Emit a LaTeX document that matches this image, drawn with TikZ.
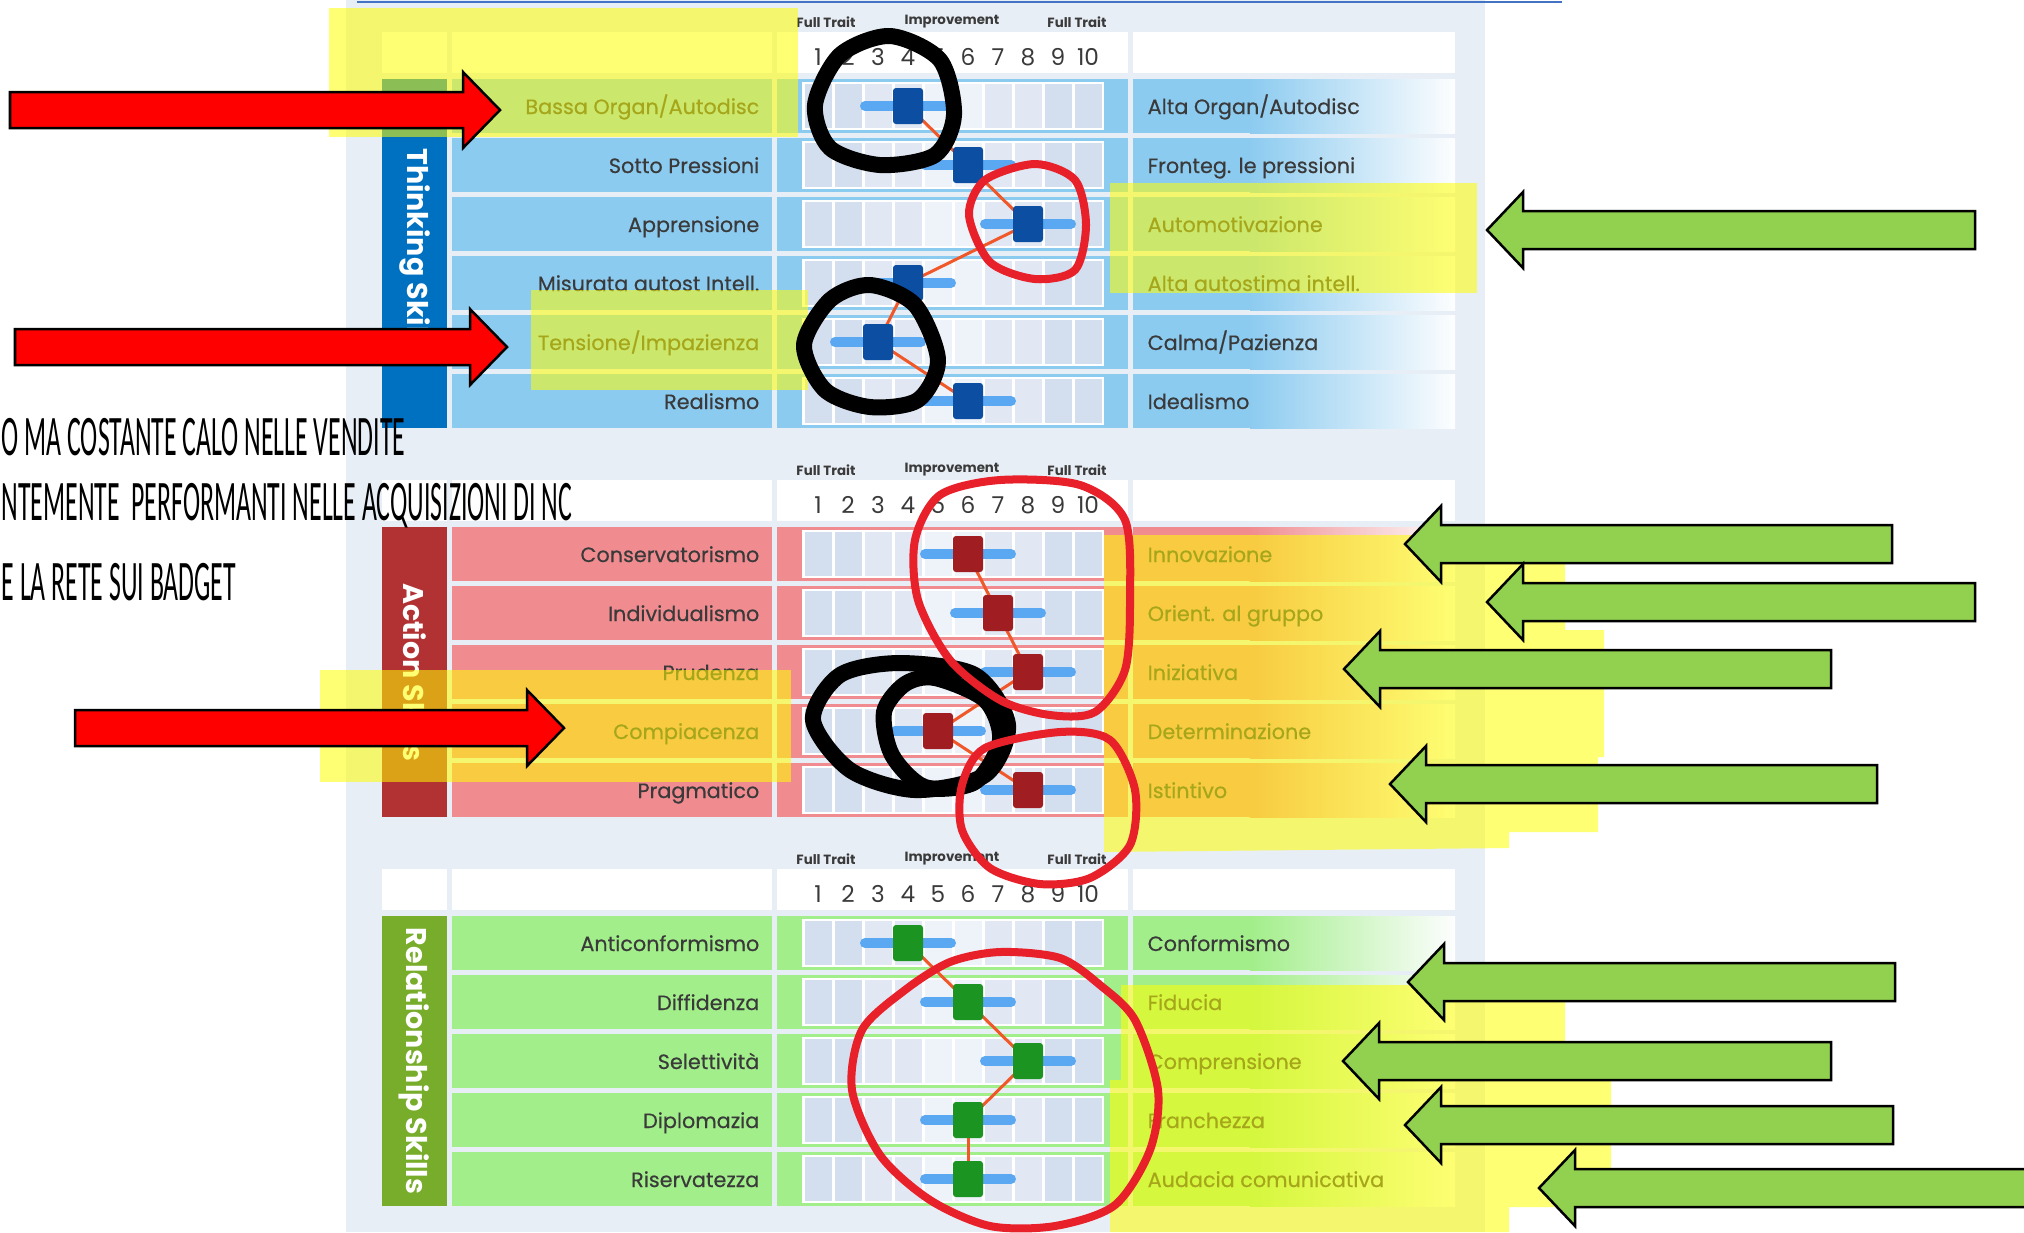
\documentclass[tikz,border=0pt]{standalone}
\usepackage{fontspec}
\setmainfont{Poppins}
\newfontfamily\labelfont[FakeBold=0.4]{Poppins}
\newfontfamily\notefont[FakeStretch=0.45]{Carlito}
\usetikzlibrary{calc}

\definecolor{panelbg}{HTML}{E8EEF6}
\definecolor{topblue}{HTML}{4472C4}
\definecolor{thinkband}{HTML}{8CCBF0}
\definecolor{thinkside}{HTML}{0070C0}
\definecolor{thinkmark}{HTML}{0B4EA2}
\definecolor{actband}{HTML}{F08C90}
\definecolor{actside}{HTML}{B23234}
\definecolor{actmark}{HTML}{A01D22}
\definecolor{relband}{HTML}{A2EE8A}
\definecolor{relside}{HTML}{78AD2C}
\definecolor{relmark}{HTML}{1B9422}
\definecolor{celldark}{HTML}{D3DEEE}
\definecolor{cellmid}{HTML}{E1E8F3}
\definecolor{celllight}{HTML}{EEF2F9}
\definecolor{barblue}{HTML}{5AA7F2}
\definecolor{trendline}{HTML}{F0582A}
\definecolor{labelgrey}{HTML}{3A3A3A}
\definecolor{penred}{HTML}{E8202A}
\definecolor{arrowred}{HTML}{FF0000}
\definecolor{arrowgreen}{HTML}{92D050}
\definecolor{hiyellow}{HTML}{FFFF00}

% one block of the profile: top, band, side, mark, title, prefix, last row, rows
\newcommand{\skillsection}[8]{%
	\node[smalltxt] (#6-ftl) at (826,#1+22) {Full Trait};
	\node[smalltxt] (#6-imp) at (952,#1+22) {Improvement};
	\node[smalltxt] (#6-ftr) at (1077,#1+22) {Full Trait};
	\fill[white] (382,#1+32) rectangle (447,#1+73);
	\fill[white] (452,#1+32) rectangle (772,#1+73);
	\fill[white] (777,#1+32) rectangle (1128,#1+73);
	\fill[white] (1133,#1+32) rectangle (1455,#1+73);
	\foreach \dg in {1,...,10}{
		\node[digit] (#6-d\dg) at (788+30*\dg,#1+57) {\dg};
	}
	\pgfmathsetmacro\secbot{#1+79+59*#7+54}
	\fill[#3] (382,#1+79) rectangle (447,\secbot);
	\node[sidetxt] (#6-title) at (414.5,{(#1+79+\secbot)/2}) {#5};
	\foreach \lname/\rname/\val [count=\i from 0] in {#8}{
		\pgfmathsetmacro\yt{#1+79+59*\i}
		\pgfmathsetmacro\ym{\yt+27}
		\fill[#2] (452,\yt) rectangle (772,\yt+54);
		\fill[#2] (777,\yt) rectangle (1128,\yt+54);
		\fill[#2] (1133,\yt) rectangle (1250,\yt+54);
		\shade[left color=#2, right color=white!92!panelbg] (1250,\yt) rectangle (1455,\yt+54);
		\fill[white] (802,\yt+3) rectangle (1104,\yt+51);
		\foreach \col in {1,2,9,10}{
			\fill[celldark] (774.5+30*\col,\yt+5) rectangle (801.5+30*\col,\yt+49);
		}
		\foreach \col in {3,4,7,8}{
			\fill[cellmid] (774.5+30*\col,\yt+5) rectangle (801.5+30*\col,\yt+49);
		}
		\foreach \col in {5,6}{
			\fill[celllight] (774.5+30*\col,\yt+5) rectangle (801.5+30*\col,\yt+49);
		}
		\node[lefttxt] (#6-l\i) at (760,\ym+8) {\lname};
		\node[righttxt] (#6-r\i) at (1147,\ym+8) {\rname};
		\coordinate (#6-p\i) at (788+30*\val,\ym);
		\draw[traitbar] (745+30*\val,\ym) -- (831+30*\val,\ym);
	}
	\foreach \i [remember=\i as \j (initially 0)] in {1,...,#7}{
		\draw[trend] (#6-p\j) -- (#6-p\i);
	}
	\foreach \i in {0,...,#7}{
		\node[markbox, fill=#4] (#6-m\i) at (#6-p\i) {};
	}
}

\begin{document}
\begin{tikzpicture}[x=0.01cm, y=-0.01cm,
	smalltxt/.style={font=\fontsize{3.8}{4}\selectfont\bfseries, text=labelgrey, inner sep=0},
	digit/.style={font=\fontsize{6.6}{7}\selectfont, text=labelgrey, inner sep=0},
	lefttxt/.style={font=\labelfont\fontsize{5.9}{7}\selectfont, text=labelgrey, inner sep=0, anchor=base east},
	righttxt/.style={font=\labelfont\fontsize{5.9}{7}\selectfont, text=labelgrey, inner sep=0, anchor=base west},
	sidetxt/.style={font=\fontsize{8.1}{9}\selectfont\bfseries, text=white, rotate=-90, inner sep=0},
	traitbar/.style={barblue, line width=0.1cm, line cap=round},
	trend/.style={trendline, line width=0.03cm},
	markbox/.style={minimum width=0.30cm, minimum height=0.36cm, rounded corners=0.03cm, inner sep=0},
	notetxt/.style={font=\notefont\fontsize{16.3}{18}\selectfont, anchor=base west, inner sep=0},
	highlight/.style={fill=hiyellow, fill opacity=0.55},
	blackloop/.style={draw=black, line width=0.16cm, line join=round},
	redloop/.style={draw=penred, line width=0.08cm, line join=round},
	rightarrow/.style={fill=arrowred, draw=black, line width=0.025cm},
	leftarrow/.style={fill=arrowgreen, draw=black, line width=0.025cm}]

	\useasboundingbox (0,0) rectangle (2024,1232);
	\clip (0,0) rectangle (2024,1232);
	\fill[white] (0,0) rectangle (2024,1232);
	\fill[panelbg] (346,0) rectangle (1485,1232);
	\draw[topblue, line width=0.02cm] (357,2) -- (1562,2);

	\skillsection{0}{thinkband}{thinkside}{thinkmark}{Thinking Skills}{th}{5}{%
		{Bassa Organ/Autodisc}/{Alta Organ/Autodisc}/4,
		{Sotto Pressioni}/{Fronteg. le pressioni}/6,
		{Apprensione}/{Automotivazione}/8,
		{Misurata autost Intell.}/{Alta autostima intell.}/4,
		{Tensione/Impazienza}/{Calma/Pazienza}/3,
		{Realismo}/{Idealismo}/6}

	\skillsection{448}{actband}{actside}{actmark}{Action Skills}{ac}{4}{%
		{Conservatorismo}/{Innovazione}/6,
		{Individualismo}/{Orient. al gruppo}/7,
		{Prudenza}/{Iniziativa}/8,
		{Compiacenza}/{Determinazione}/5,
		{Pragmatico}/{Istintivo}/8}

	\skillsection{837}{relband}{relside}{relmark}{Relationship Skills}{re}{4}{%
		{Anticonformismo}/{Conformismo}/4,
		{Diffidenza}/{Fiducia}/6,
		{Selettività}/{Comprensione}/8,
		{Diplomazia}/{Franchezza}/6,
		{Riservatezza}/{Audacia comunicativa}/6}

	% notes on the left
	\node[notetxt] (note1) at (1,455) {O MA COSTANTE CALO NELLE VENDITE};
	\node[notetxt] (note2) at (1,520) {NTEMENTE~ PERFORMANTI NELLE ACQUISIZIONI DI NC};
	\node[notetxt] (note3) at (1,600) {E LA RETE SUI BADGET};

	% highlighter
	\fill[highlight] (329,8) rectangle (798,137);
	\fill[highlight] (531,290) rectangle (808,390);
	\fill[highlight] (1110,183) rectangle (1477,293);
	\fill[highlight] (320,670) rectangle (791,782);
	\fill[highlight] (1104,535) -- (1457,535) -- (1457,563) -- (1565,563) -- (1565,630)
		-- (1604,630) -- (1604,757) -- (1598,757) -- (1598,832) -- (1509,832)
		-- (1509,848) -- (1104,852) -- cycle;
	\fill[highlight] (1121,985) -- (1451,985) -- (1451,1002) -- (1565,1002) -- (1565,1080)
		-- (1611,1080) -- (1611,1207) -- (1509,1207) -- (1509,1232) -- (1110,1232)
		-- (1110,1080) -- (1121,1080) -- cycle;

	% pen loops
	\draw[blackloop] plot[smooth cycle] coordinates {(890,36) (940,60) (954,115) (935,155)
		(880,165) (830,148) (815,105) (840,55)};
	\draw[blackloop] plot[smooth cycle] coordinates {(870,285) (915,305) (938,360) (918,400)
		(870,407) (825,390) (804,345) (830,300)};
	\draw[blackloop] plot[smooth cycle] coordinates {(900,663) (975,675) (1008,725) (985,775)
		(915,790) (850,770) (813,720) (840,675)};
	\draw[blackloop] plot[smooth cycle] coordinates {(935,678) (985,700) (1000,740) (975,782)
		(925,787) (892,755) (884,712) (905,684)};
	\draw[redloop] plot[smooth cycle] coordinates {(1035,164) (1075,180) (1086,225) (1075,270)
		(1035,279) (990,262) (969,215) (985,180)};
	\draw[redloop] plot[smooth cycle] coordinates {(1000,480) (1080,485) (1125,520) (1130,600)
		(1125,670) (1095,712) (1050,715) (1000,700) (950,660) (918,600) (915,540) (940,495)};
	\draw[redloop] plot[smooth cycle] coordinates {(1060,732) (1110,740) (1135,790) (1130,845)
		(1090,878) (1040,884) (990,868) (962,830) (962,785) (985,748)};
	\draw[redloop] plot[smooth cycle] coordinates {(1000,952) (1060,958) (1100,985) (1135,1020)
		(1158,1090) (1150,1150) (1115,1205) (1055,1226) (990,1226) (930,1200) (880,1155)
		(852,1090) (862,1030) (905,990) (950,962)};

	% arrows
	\foreach \tail/\tip/\yc in {10/500/110, 15/507/347, 75/564/728}{
		\draw[rightarrow] (\tail,\yc-18) -- (\tip-37,\yc-18) -- (\tip-37,\yc-38) -- (\tip,\yc)
			-- (\tip-37,\yc+38) -- (\tip-37,\yc+18) -- (\tail,\yc+18) -- cycle;
	}
	\foreach \tip/\yc/\tail in {1487/230/1975, 1405/544/1892, 1487/602/1975, 1344/669/1831,
		1390/784/1877, 1408/982/1895, 1343/1061/1831, 1405/1125/1893, 1539/1188/2040}{
		\draw[leftarrow] (\tip,\yc) -- (\tip+36,\yc-38) -- (\tip+36,\yc-19) -- (\tail,\yc-19)
			-- (\tail,\yc+19) -- (\tip+36,\yc+19) -- (\tip+36,\yc+38) -- cycle;
	}
\end{tikzpicture}
\end{document}
